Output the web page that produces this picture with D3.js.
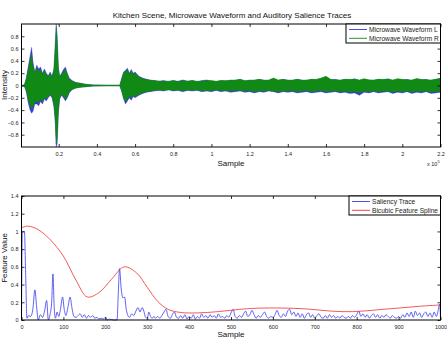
<!DOCTYPE html>
<html>
<head>
<meta charset="utf-8">
<script src="https://cdn.jsdelivr.net/npm/d3@7"></script>
<style>
  body { margin: 0; background: #fff; }
  svg { font-family: "Liberation Sans", Arial, sans-serif; }
</style>
</head>
<body>
<svg id="chart" width="447" height="342"></svg>
<script>
// ---- top panel: waveform envelopes (x in units of 1e5 samples)
const wfX = [0, 0.02, 0.03, 0.04, 0.05, 0.058, 0.065, 0.075, 0.085, 0.095, 0.105, 0.115, 0.125, 0.135, 0.145, 0.155, 0.165, 0.175, 0.182, 0.187, 0.192, 0.198, 0.205, 0.215, 0.225, 0.235, 0.245, 0.255, 0.27, 0.29, 0.31, 0.34, 0.38, 0.45, 0.52, 0.53, 0.54, 0.55, 0.56, 0.57, 0.58, 0.59, 0.6, 0.62, 0.64, 0.66, 0.68, 0.7,
  0.725, 0.75, 0.775, 0.8, 0.825, 0.85, 0.875, 0.9, 0.925, 0.95, 0.975, 1.0,
  1.025, 1.05, 1.075, 1.1, 1.125, 1.15, 1.175, 1.2, 1.225, 1.25, 1.275, 1.3, 1.325, 1.35, 1.375, 1.4, 1.425, 1.45, 1.475, 1.5,
  1.525, 1.55, 1.575, 1.6, 1.625, 1.65, 1.675, 1.7, 1.725, 1.75, 1.775, 1.8, 1.825, 1.85, 1.875, 1.9, 1.925, 1.95, 1.975, 2.0, 2.025, 2.05, 2.075, 2.1, 2.125, 2.15, 2.175, 2.2];
const leftTop = [0, 0.01, 0.12, 0.3, 0.48, 0.62, 0.38, 0.22, 0.33, 0.27, 0.3, 0.2, 0.27, 0.2, 0.16, 0.22, 0.15, 0.28, 0.7, 1.0, 0.8, 0.3, 0.15, 0.2, 0.26, 0.3, 0.2, 0.12, 0.08, 0.05, 0.04, 0.02, 0.01, 0.005, 0.005, 0.12, 0.22, 0.25, 0.28, 0.2, 0.26, 0.2, 0.22, 0.15, 0.12, 0.1, 0.09, 0.08,
  0.07, 0.08, 0.06, 0.08, 0.07, 0.09, 0.07, 0.08, 0.06, 0.08, 0.09, 0.07,
  0.06, 0.08, 0.07, 0.09, 0.08, 0.1, 0.07, 0.09, 0.08, 0.1, 0.09, 0.08, 0.11, 0.08, 0.1, 0.09, 0.08, 0.1, 0.09, 0.08,
  0.1, 0.09, 0.11, 0.14, 0.09, 0.1, 0.08, 0.1, 0.09, 0.11, 0.08, 0.1, 0.09, 0.08, 0.1, 0.09, 0.11, 0.08, 0.1, 0.09, 0.1, 0.08, 0.11, 0.09, 0.1, 0.08, 0.1, 0.11];
const leftBot = [0, -0.01, -0.1, -0.28, -0.4, -0.45, -0.42, -0.3, -0.3, -0.33, -0.26, -0.3, -0.22, -0.25, -0.2, -0.16, -0.2, -0.35, -0.6, -1.0, -0.95, -0.45, -0.22, -0.16, -0.2, -0.25, -0.2, -0.12, -0.07, -0.04, -0.03, -0.02, -0.01, -0.005, -0.005, -0.1, -0.22, -0.3, -0.25, -0.2, -0.24, -0.18, -0.2, -0.16, -0.13, -0.11, -0.1, -0.09,
  -0.08, -0.09, -0.07, -0.09, -0.08, -0.1, -0.08, -0.09, -0.08, -0.1, -0.09, -0.1,
  -0.08, -0.1, -0.09, -0.11, -0.1, -0.09, -0.11, -0.1, -0.12, -0.1, -0.11, -0.09, -0.1, -0.12, -0.1, -0.11, -0.1, -0.12, -0.11, -0.1,
  -0.12, -0.11, -0.1, -0.12, -0.11, -0.1, -0.12, -0.11, -0.13, -0.12, -0.16, -0.11, -0.12, -0.1, -0.12, -0.11, -0.1, -0.13, -0.11, -0.12, -0.1, -0.13, -0.11, -0.12, -0.1, -0.13, -0.12, -0.11];
const rightTop = [0, 0.01, 0.1, 0.25, 0.4, 0.5, 0.32, 0.2, 0.28, 0.24, 0.26, 0.18, 0.24, 0.18, 0.14, 0.2, 0.13, 0.25, 0.6, 0.95, 0.7, 0.28, 0.13, 0.18, 0.22, 0.26, 0.18, 0.1, 0.07, 0.045, 0.035, 0.02, 0.01, 0.005, 0.005, 0.1, 0.2, 0.22, 0.26, 0.18, 0.24, 0.18, 0.2, 0.14, 0.11, 0.1, 0.08, 0.08,
  0.07, 0.07, 0.07, 0.08, 0.06, 0.08, 0.07, 0.08, 0.07, 0.07, 0.08, 0.08,
  0.07, 0.08, 0.08, 0.08, 0.09, 0.1, 0.08, 0.08, 0.09, 0.1, 0.08, 0.09, 0.12, 0.09, 0.1, 0.08, 0.09, 0.1, 0.08, 0.09,
  0.1, 0.1, 0.12, 0.15, 0.1, 0.09, 0.09, 0.1, 0.1, 0.1, 0.09, 0.11, 0.09, 0.09, 0.1, 0.1, 0.1, 0.09, 0.11, 0.1, 0.09, 0.09, 0.11, 0.1, 0.09, 0.09, 0.1, 0.12];
const rightBot = [0, -0.01, -0.08, -0.22, -0.32, -0.38, -0.34, -0.26, -0.26, -0.28, -0.22, -0.26, -0.2, -0.22, -0.18, -0.14, -0.18, -0.3, -0.55, -0.95, -0.85, -0.4, -0.2, -0.14, -0.18, -0.22, -0.18, -0.1, -0.06, -0.04, -0.03, -0.02, -0.01, -0.005, -0.005, -0.08, -0.2, -0.26, -0.22, -0.18, -0.2, -0.16, -0.18, -0.14, -0.12, -0.1, -0.09, -0.08,
  -0.07, -0.08, -0.07, -0.08, -0.07, -0.09, -0.07, -0.08, -0.07, -0.09, -0.08, -0.09,
  -0.07, -0.08, -0.08, -0.09, -0.08, -0.08, -0.09, -0.08, -0.1, -0.09, -0.09, -0.08, -0.09, -0.1, -0.09, -0.09, -0.08, -0.1, -0.09, -0.08,
  -0.1, -0.09, -0.08, -0.1, -0.09, -0.09, -0.1, -0.09, -0.11, -0.1, -0.12, -0.09, -0.1, -0.09, -0.1, -0.09, -0.09, -0.11, -0.09, -0.1, -0.09, -0.11, -0.09, -0.1, -0.09, -0.11, -0.1, -0.09];
const topXTicks = [0.2, 0.4, 0.6, 0.8, 1, 1.2, 1.4, 1.6, 1.8, 2, 2.2];
const topYTicks = [-0.8, -0.6, -0.4, -0.2, 0, 0.2, 0.4, 0.6, 0.8];
const topLegend = ["Microwave Waveform L", "Microwave Waveform R"];

// ---- bottom panel: saliency trace and spline
const salX = [0, 2, 7, 10, 13, 17, 22, 27, 32, 36, 40, 45, 50, 55, 60, 64, 68, 72, 75, 78, 81, 85, 89, 93, 98, 102, 106, 111, 116, 120, 125, 130, 135, 140, 145, 150, 155, 160, 165, 170, 175, 180, 185, 190, 195, 200, 205, 210, 220, 228, 231, 234, 238, 242, 246, 250, 254, 258, 263, 268, 273, 278, 283, 288, 292, 296, 300, 304, 308, 312, 316, 320, 325, 330, 335, 340, 345, 350, 355, 360, 365, 370, 375, 380, 385, 390, 395,
  400, 405, 410, 415, 420, 425, 430, 435, 440, 445, 450, 455, 460, 465, 470, 475, 480, 485, 490, 495, 500, 505, 510, 515, 520, 525, 530, 535, 540, 545, 550, 555, 560, 565, 570, 575, 580, 585, 590, 595,
  600, 605, 610, 615, 620, 625, 630, 635, 640, 645, 650, 655, 660, 665, 670, 675, 680, 685, 690, 695, 700, 705, 710, 715, 720, 725, 730, 735, 740, 745, 750, 755, 760, 765, 770, 775, 780, 785, 790, 795,
  800, 805, 810, 815, 820, 825, 830, 835, 840, 845, 850, 855, 860, 865, 870, 875, 880, 885, 890, 895, 900, 905, 910, 915, 920, 925, 930, 935, 940, 945, 950, 955, 960, 965, 970, 975, 980, 985, 990, 995, 998, 1000];
const salY = [0, 1.0, 1.0, 0.5, 0.02, 0.05, 0.04, 0.12, 0.34, 0.15, 0.0, 0.06, 0.03, 0.1, 0.22, 0.0, 0.06, 0.2, 0.52, 0.15, 0.02, 0.09, 0.04, 0.12, 0.26, 0.12, 0.05, 0.15, 0.26, 0.15, 0.04, 0.03, 0.05, 0.07, 0.03, 0.06, 0.02, 0.05, 0.03, 0.05, 0.02, 0.03, 0.01, 0.02, 0.01, 0.03, 0.0, 0.01, 0.0, 0.0, 0.3, 0.58, 0.35, 0.25, 0.26, 0.12, 0.05, 0.03, 0.07, 0.05, 0.1, 0.14, 0.09, 0.14, 0.1, 0.03, 0.02, 0.09, 0.04, 0.02, 0.04, 0.02, 0.04, 0.02, 0.05, 0.09, 0.12, 0.04, 0.02, 0.06, 0.09, 0.03, 0.02, 0.05, 0.02, 0.06, 0.01,
  0.04, 0.02, 0.06, 0.01, 0.04, 0.02, 0.07, 0.03, 0.05, 0.02, 0.06, 0.03, 0.05, 0.02, 0.07, 0.03, 0.04, 0.02, 0.05, 0.03, 0.08, 0.12, 0.04, 0.02, 0.05, 0.03, 0.07, 0.1, 0.04, 0.06, 0.11, 0.06, 0.02, 0.05, 0.03, 0.06, 0.09, 0.04, 0.02, 0.04,
  0.03, 0.06, 0.11, 0.05, 0.03, 0.07, 0.04, 0.1, 0.12, 0.06, 0.09, 0.04, 0.08, 0.03, 0.07, 0.02, 0.06, 0.08, 0.03, 0.06, 0.02, 0.05, 0.07, 0.03, 0.02, 0.05, 0.02, 0.06, 0.03, 0.05, 0.02, 0.04, 0.02, 0.05, 0.03, 0.02, 0.04, 0.02, 0.05, 0.03,
  0.06, 0.1, 0.04, 0.07, 0.03, 0.06, 0.02, 0.05, 0.07, 0.03, 0.06, 0.02, 0.05, 0.03, 0.06, 0.04, 0.02, 0.05, 0.03, 0.02, 0.04, 0.02, 0.06, 0.03, 0.08, 0.04, 0.09, 0.03, 0.1, 0.05, 0.08, 0.03, 0.07, 0.09, 0.04, 0.08, 0.03, 0.09, 0.04, 0.12, 0.18, 0.02];
const splineX = [0, 15, 40, 70, 100, 130, 157, 185, 215, 245, 275, 300, 325, 350, 380, 420, 470, 520, 560, 620, 680, 740, 790, 850, 900, 950, 1000];
const splineY = [1.04, 1.06, 1.02, 0.9, 0.72, 0.45, 0.26, 0.31, 0.46, 0.6, 0.53, 0.37, 0.21, 0.12, 0.085, 0.08, 0.095, 0.12, 0.133, 0.135, 0.125, 0.1, 0.094, 0.115, 0.135, 0.155, 0.17];
const botXTicks = [0, 100, 200, 300, 400, 500, 600, 700, 800, 900, 1000];
const botYTicks = [0, 0.2, 0.4, 0.6, 0.8, 1, 1.2, 1.4];
const botLegend = ["Saliency Trace", "Bicubic Feature Spline"];

const svg = d3.select('#chart');

// draws an axes box with inward ticks on all four sides
function drawFrame(g, x, y, xTicks, yTicks, xFmt, yFmt) {
    let [x0, x1] = x.range();
    let [y0, y1] = y.range();
    let TL = 3;
    g.append('rect')
        .attr('x', x0).attr('y', y1)
        .attr('width', x1 - x0).attr('height', y0 - y1)
        .attr('fill', 'none').attr('stroke', '#000').attr('stroke-width', 1);
    g.append('g').attr('transform', `translate(0,${y0})`)
        .call(d3.axisBottom(x).tickValues(xTicks).tickSize(-TL).tickPadding(5).tickFormat(xFmt));
    g.append('g').attr('transform', `translate(0,${y1})`)
        .call(d3.axisTop(x).tickValues(xTicks).tickSize(-TL).tickFormat(''));
    g.append('g').attr('transform', `translate(${x0},0)`)
        .call(d3.axisLeft(y).tickValues(yTicks).tickSize(-TL).tickPadding(3).tickFormat(yFmt));
    g.append('g').attr('transform', `translate(${x1},0)`)
        .call(d3.axisRight(y).tickValues(yTicks).tickSize(-TL).tickFormat(''));
    g.selectAll('.domain').remove();
    g.selectAll('.tick line').attr('stroke', '#000').attr('stroke-width', 0.8);
    g.selectAll('.tick text').attr('font-size', 5.5).attr('fill', '#222')
        .attr('font-family', '"Liberation Sans", Arial, sans-serif');
}

function drawLegend(g, x, y, w, labels, colors) {
    g.append('rect').attr('x', x).attr('y', y).attr('width', w).attr('height', 19)
        .attr('fill', '#fff').attr('stroke', '#000').attr('stroke-width', 1);
    labels.forEach((lab, i) => {
        let ly = y + 5.5 + i * 8.8;
        g.append('line').attr('x1', x + 3).attr('x2', x + 21).attr('y1', ly).attr('y2', ly)
            .attr('stroke', colors[i]).attr('stroke-width', 0.9);
        g.append('text').attr('x', x + 23).attr('y', ly + 2.3).attr('font-size', 6.6)
            .attr('fill', '#222').text(lab);
    });
}

// ---------- top panel
const xTop = d3.scaleLinear().domain([0.005, 2.2]).range([21.5, 440.5]);
const yTop = d3.scaleLinear().domain([-1, 1]).range([147, 24]);
const gTop = svg.append('g');

const wf = wfX.map((x, i) => ({x: x, lt: leftTop[i], lb: leftBot[i], rt: rightTop[i], rb: rightBot[i]}));

gTop.append('defs').append('clipPath').attr('id', 'clipTop')
    .append('rect').attr('x', 21.5).attr('y', 24).attr('width', 419).attr('height', 123);

let plotTop = gTop.append('g').attr('clip-path', 'url(#clipTop)');
let areaL = d3.area().x(d => xTop(d.x)).y0(d => yTop(d.lb)).y1(d => yTop(d.lt));
let areaR = d3.area().x(d => xTop(d.x)).y0(d => yTop(d.rb)).y1(d => yTop(d.rt));
plotTop.append('path').datum(wf).attr('d', areaL)
    .attr('fill', '#3a3ad0').attr('stroke', '#3a3ad0').attr('stroke-width', 0.4);
plotTop.append('path').datum(wf).attr('d', areaR)
    .attr('fill', '#108a14').attr('stroke', '#108a14').attr('stroke-width', 0.5);
// zero line through the silent parts
plotTop.append('line').attr('x1', xTop(0.005)).attr('x2', xTop(2.2))
    .attr('y1', yTop(0)).attr('y2', yTop(0)).attr('stroke', '#108a14').attr('stroke-width', 0.8);

drawFrame(gTop, xTop, yTop, topXTicks, topYTicks, d3.format('~g'), d3.format('~g'));

gTop.append('text').attr('x', 232).attr('y', 18).attr('text-anchor', 'middle')
    .attr('font-size', 8).attr('fill', '#111')
    .text('Kitchen Scene, Microwave Waveform and Auditory Salience Traces');
gTop.append('text').attr('x', 231).attr('y', 166).attr('text-anchor', 'middle')
    .attr('font-size', 8).attr('fill', '#111').text('Sample');
gTop.append('text').attr('transform', 'translate(7,85) rotate(-90)').attr('text-anchor', 'middle')
    .attr('font-size', 8).attr('fill', '#111').text('Intensity');
let sci = gTop.append('text').attr('x', 427).attr('y', 166).attr('font-size', 5.5).attr('fill', '#222');
sci.append('tspan').text('x 10');
sci.append('tspan').attr('dy', -3).attr('font-size', 4).text('5');

drawLegend(gTop, 346, 24, 94.5, topLegend, ['#3a3ad0', '#108a14']);

// ---------- bottom panel
const xBot = d3.scaleLinear().domain([0, 1000]).range([21.5, 440.5]);
const yBot = d3.scaleLinear().domain([0, 1.4]).range([320, 196]);
const gBot = svg.append('g');

let sal = salX.map((x, i) => ({x: x, y: salY[i]}));
let spl = splineX.map((x, i) => ({x: x, y: splineY[i]}));

gBot.append('path').datum(sal)
    .attr('d', d3.line().x(d => xBot(d.x)).y(d => yBot(d.y)).curve(d3.curveMonotoneX))
    .attr('fill', 'none').attr('stroke', '#3a3af0').attr('stroke-width', 0.8);
gBot.append('path').datum(spl)
    .attr('d', d3.line().x(d => xBot(d.x)).y(d => yBot(d.y)).curve(d3.curveCatmullRom.alpha(0.5)))
    .attr('fill', 'none').attr('stroke', '#ee3030').attr('stroke-width', 0.8);

drawFrame(gBot, xBot, yBot, botXTicks, botYTicks, d3.format('~g'), d3.format('~g'));

gBot.append('text').attr('x', 231).attr('y', 337).attr('text-anchor', 'middle')
    .attr('font-size', 8).attr('fill', '#111').text('Sample');
gBot.append('text').attr('transform', 'translate(7,258) rotate(-90)').attr('text-anchor', 'middle')
    .attr('font-size', 8).attr('fill', '#111').text('Feature Value');

drawLegend(gBot, 349, 196, 91.5, botLegend, ['#3a3af0', '#ee3030']);
</script>
</body>
</html>
